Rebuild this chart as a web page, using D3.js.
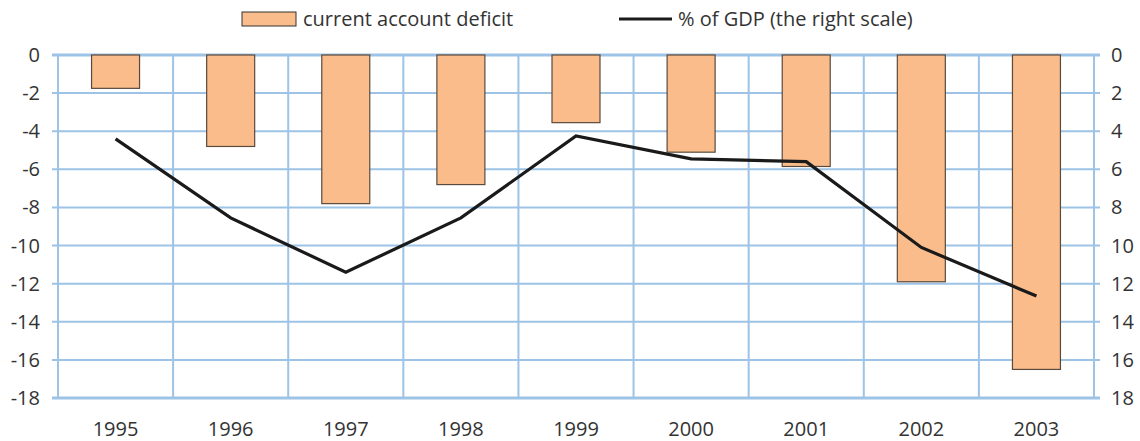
<!DOCTYPE html>
<html>
<head>
<meta charset="utf-8">
<script src="https://cdn.jsdelivr.net/npm/d3@7"></script>
<style>
  body { margin: 0; background: #fff; }
  text { font-family: "Open Sans", sans-serif; fill: #333; }
</style>
</head>
<body>
<svg id="chart" width="1140" height="441"></svg>
<script>
// data
const years = ["1995", "1996", "1997", "1998", "1999", "2000", "2001", "2002", "2003"];
const deficit = [-1.75, -4.8, -7.8, -6.8, -3.55, -5.1, -5.85, -11.9, -16.5];
const pctGdp = [4.4, 8.55, 11.4, 8.55, 4.25, 5.45, 5.6, 10.1, 12.65];
const leftTicks = [0, -2, -4, -6, -8, -10, -12, -14, -16, -18];
const rightTicks = [0, 2, 4, 6, 8, 10, 12, 14, 16, 18];

const svg = d3.select("#chart");
const m = {left: 58, right: 1094, top: 55, bottom: 398};
const grid = "#9dc3e6";

const x = d3.scaleBand().domain(years).range([m.left, m.right]).paddingInner(0).paddingOuter(0);
const yL = d3.scaleLinear().domain([0, -18]).range([m.top, m.bottom]);
const yR = d3.scaleLinear().domain([0, 18]).range([m.top, m.bottom]);

// horizontal gridlines + ticks
svg.append("g").selectAll("line").data(leftTicks).join("line")
  .attr("x1", m.left - 6).attr("x2", m.right + 6)
  .attr("y1", d => yL(d)).attr("y2", d => yL(d))
  .attr("stroke", grid)
  .attr("stroke-width", d => (d === 0 || d === -18) ? 3 : 2);

// vertical gridlines at category edges
const edges = years.map(d => x(d)).concat([m.right]);
svg.append("g").selectAll("line").data(edges).join("line")
  .attr("x1", d => d).attr("x2", d => d)
  .attr("y1", m.top).attr("y2", m.bottom)
  .attr("stroke", grid).attr("stroke-width", 2);

// bars
const bw = 48;
svg.append("g").selectAll("rect").data(deficit).join("rect")
  .attr("x", (d, i) => x(years[i]) + x.bandwidth() / 2 - bw / 2)
  .attr("y", yL(0))
  .attr("width", bw)
  .attr("height", d => yL(d) - yL(0))
  .attr("fill", "#f9bc8a")
  .attr("stroke", "#5a4a3e").attr("stroke-width", 1.2);

// line on the right scale
const line = d3.line()
  .x((d, i) => x(years[i]) + x.bandwidth() / 2)
  .y(d => yR(d));
svg.append("path").datum(pctGdp)
  .attr("d", line)
  .attr("fill", "none")
  .attr("stroke", "#1a1a1a").attr("stroke-width", 3.2)
  .attr("stroke-linejoin", "miter");

// axis labels
svg.append("g").selectAll("text").data(leftTicks).join("text")
  .attr("x", 40).attr("y", d => yL(d)).attr("dy", "0.35em")
  .attr("text-anchor", "end").attr("font-size", 20)
  .text(d => d);

svg.append("g").selectAll("text").data(rightTicks).join("text")
  .attr("x", 1111).attr("y", d => yR(d)).attr("dy", "0.35em")
  .attr("text-anchor", "start").attr("font-size", 20)
  .text(d => d);

svg.append("g").selectAll("text").data(years).join("text")
  .attr("x", d => x(d) + x.bandwidth() / 2).attr("y", 436)
  .attr("text-anchor", "middle").attr("font-size", 20)
  .text(d => d);

// legend
const lg = svg.append("g");
lg.append("rect").attr("x", 242).attr("y", 12).attr("width", 54).attr("height", 14)
  .attr("fill", "#f9bc8a").attr("stroke", "#333").attr("stroke-width", 1);
lg.append("text").attr("x", 303).attr("y", 19).attr("dy", "0.35em")
  .attr("font-size", 20).text("current account deficit");
lg.append("line").attr("x1", 619).attr("x2", 672).attr("y1", 19).attr("y2", 19)
  .attr("stroke", "#1a1a1a").attr("stroke-width", 3.2);
lg.append("text").attr("x", 678).attr("y", 19).attr("dy", "0.35em")
  .attr("font-size", 20).text("% of GDP (the right scale)");
</script>
</body>
</html>
